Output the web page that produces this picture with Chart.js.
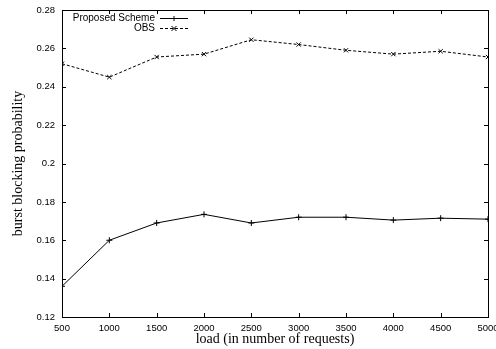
<!DOCTYPE html>
<html><head><meta charset="utf-8">
<script src="https://cdn.jsdelivr.net/npm/chart.js@4/dist/chart.umd.min.js"></script>
<style>html,body{margin:0;padding:0;background:#fff}#wrap{width:496px;height:349px}</style>
</head><body><div id="wrap"><canvas id="c" width="496" height="349"></canvas></div>
<script>
const loads = [500, 1000, 1500, 2000, 2500, 3000, 3500, 4000, 4500, 5000];
const proposedScheme = [0.136, 0.160, 0.169, 0.1735, 0.169, 0.172, 0.172, 0.1705, 0.1715, 0.171];
const obs = [0.252, 0.245, 0.2555, 0.257, 0.2645, 0.262, 0.259, 0.257, 0.2585, 0.2555];
const seriesNames = ["Proposed Scheme", "OBS"];
const xTitle = "load (in number of requests)";
const yTitle = "burst blocking probability";

const frame = {
  id: 'frame',
  afterDatasetsDraw(chart) {
    const {ctx, chartArea: a, scales: {x, y}} = chart;
    ctx.save();
    ctx.strokeStyle = '#000';
    ctx.lineWidth = 1;
    ctx.strokeRect(a.left + 0.5, a.top + 0.5, a.right - a.left, a.bottom - a.top);
    ctx.beginPath();
    const L = 4;
    x.ticks.forEach(t => {
      const px = Math.round(x.getPixelForValue(t.value)) + 0.5;
      ctx.moveTo(px, a.bottom); ctx.lineTo(px, a.bottom - L);
      ctx.moveTo(px, a.top); ctx.lineTo(px, a.top + L);
    });
    y.ticks.forEach(t => {
      const py = Math.round(y.getPixelForValue(t.value)) + 0.5;
      ctx.moveTo(a.left, py); ctx.lineTo(a.left + L, py);
      ctx.moveTo(a.right, py); ctx.lineTo(a.right - L, py);
    });
    ctx.stroke();
    // legend
    ctx.font = '10px "Liberation Sans", Arial, sans-serif';
    ctx.textAlign = 'right';
    ctx.textBaseline = 'middle';
    ctx.fillStyle = '#000';
    const rows = [{y: a.top + 8}, {y: a.top + 18}];
    chart.data.datasets.forEach((ds, i) => {
      const yy = rows[i].y + 0.5;
      ctx.fillText(ds.label, a.left + 93, yy);
      ctx.beginPath();
      ctx.setLineDash(ds.borderDash || []);
      ctx.moveTo(a.left + 98, yy); ctx.lineTo(a.left + 126, yy);
      ctx.stroke();
      ctx.setLineDash([]);
      const mx = a.left + 112, r = 2.5;
      ctx.beginPath();
      if (ds.pointStyle === 'cross') {
        ctx.moveTo(mx - r, yy); ctx.lineTo(mx + r, yy);
        ctx.moveTo(mx, yy - r); ctx.lineTo(mx, yy + r);
      } else {
        ctx.moveTo(mx - r, yy - r); ctx.lineTo(mx + r, yy + r);
        ctx.moveTo(mx - r, yy + r); ctx.lineTo(mx + r, yy - r);
      }
      ctx.stroke();
    });
    ctx.restore();
  }
};

new Chart(document.getElementById('c'), {
  type: 'line',
  data: {
    datasets: [
      { label: seriesNames[0], data: loads.map((l, i) => ({x: l, y: proposedScheme[i]})),
        borderColor: '#000', borderWidth: 1, pointStyle: 'cross', pointRadius: 3,
        pointBorderColor: '#000', pointBorderWidth: 1, tension: 0, fill: false },
      { label: seriesNames[1], data: loads.map((l, i) => ({x: l, y: obs[i]})),
        borderColor: '#000', borderWidth: 1, borderDash: [3, 2], pointStyle: 'crossRot', pointRadius: 3,
        pointBorderColor: '#000', pointBorderWidth: 1, tension: 0, fill: false }
    ]
  },
  options: {
    responsive: false, animation: false,
    layout: { padding: { top: 10, right: 8, left: 0, bottom: 0 } },
    plugins: { legend: { display: false }, tooltip: { enabled: false } },
    scales: {
      x: {
        type: 'linear', min: 500, max: 5000,
        grid: { display: false, drawTicks: false },
        border: { display: false },
        ticks: { stepSize: 500, color: '#000', padding: 6, maxRotation: 0, autoSkip: false,
          font: { family: '"Liberation Sans", Arial, sans-serif', size: 9.5 },
          callback: v => String(v) },
        title: { display: true, text: xTitle, color: '#000', padding: { top: 0, bottom: 1 },
          font: { family: '"Liberation Serif", "Times New Roman", serif', size: 14 } },
        afterFit(s) { s.height = 32; s.paddingLeft = 0; s.paddingRight = 0; }
      },
      y: {
        min: 0.12, max: 0.28,
        grid: { display: false, drawTicks: false },
        border: { display: false },
        ticks: { stepSize: 0.02, color: '#000', padding: 7,
          font: { family: '"Liberation Sans", Arial, sans-serif', size: 9.5 },
          callback: v => String(Math.round(v * 100) / 100) },
        title: { display: true, text: yTitle, color: '#000', padding: { top: 10, bottom: 0 },
          font: { family: '"Liberation Serif", "Times New Roman", serif', size: 14 } },
        afterFit(s) { s.width = 62; s.paddingTop = 0; s.paddingBottom = 0; }
      }
    }
  },
  plugins: [frame]
});
</script></body></html>
